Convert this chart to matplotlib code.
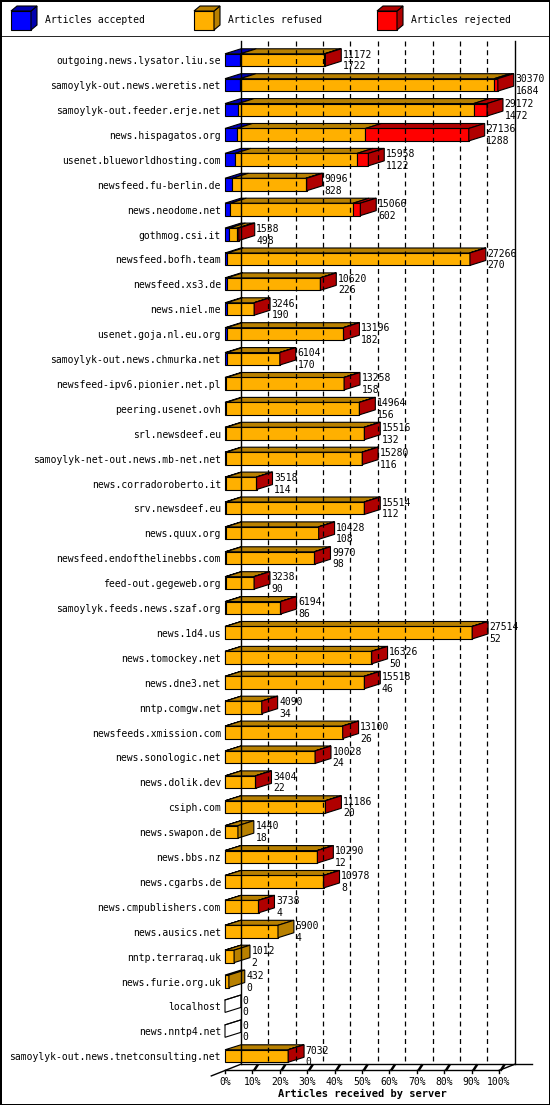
import matplotlib.pyplot as plt
from matplotlib.patches import Polygon, Rectangle

servers = ["outgoing.news.lysator.liu.se", "samoylyk-out.news.weretis.net", "samoylyk-out.feeder.erje.net",
           "news.hispagatos.org", "usenet.blueworldhosting.com", "newsfeed.fu-berlin.de", "news.neodome.net",
           "gothmog.csi.it", "newsfeed.bofh.team", "newsfeed.xs3.de", "news.niel.me", "usenet.goja.nl.eu.org",
           "samoylyk-out.news.chmurka.net", "newsfeed-ipv6.pionier.net.pl", "peering.usenet.ovh", "srl.newsdeef.eu",
           "samoylyk-net-out.news.mb-net.net", "news.corradoroberto.it", "srv.newsdeef.eu", "news.quux.org",
           "newsfeed.endofthelinebbs.com", "feed-out.gegeweb.org", "samoylyk.feeds.news.szaf.org", "news.1d4.us",
           "news.tomockey.net", "news.dne3.net", "nntp.comgw.net", "newsfeeds.xmission.com", "news.sonologic.net",
           "news.dolik.dev", "csiph.com", "news.swapon.de", "news.bbs.nz", "news.cgarbs.de",
           "news.cmpublishers.com", "news.ausics.net", "nntp.terraraq.uk", "news.furie.org.uk", "localhost",
           "news.nntp4.net", "samoylyk-out.news.tnetconsulting.net"]
offered = [11172, 30370, 29172, 27136, 15958, 9096, 15066, 1538, 27266, 10620, 3246, 13196, 6104, 13258, 14964,
           15516, 15280, 3518, 15514, 10428, 9970, 3238, 6194, 27514, 16326, 15518, 4090, 13100, 10028, 3404,
           11186, 1440, 10290, 10978, 3738, 5900, 1012, 432, 0, 0, 7032]
accepted = [1722, 1684, 1472, 1288, 1122, 828, 602, 498, 270, 226, 190, 182, 170, 158, 156, 132, 116, 114, 112,
            108, 98, 90, 86, 52, 50, 46, 34, 26, 24, 22, 20, 18, 12, 8, 4, 4, 2, 0, 0, 0, 0]
rejected = [100, 400, 1500, 11500, 1250, 100, 800, 150, 30, 30, 20, 20, 30, 20, 20, 20, 20, 20, 20, 20, 20, 20,
            20, 20, 20, 20, 20, 20, 20, 20, 20, 0, 20, 20, 20, 0, 0, 0, 0, 0, 20]
ticks = [0, 10, 20, 30, 40, 50, 60, 70, 80, 90, 100]
full_scale = 30500

fronts = ["#0000ff", "#ffb000", "#ff0000"]
darks = ["#0000b0", "#b88000", "#b00000"]
legend_names = ["Articles accepted", "Articles refused", "Articles rejected"]

mono = "DejaVu Sans Mono"
fs = 7.0
dx, dy, h = 5.8, 0.2, 0.5
n = len(servers)

fig = plt.figure(figsize=(5.5, 11.05), dpi=100)
fig.patch.set_edgecolor("black")
fig.patch.set_linewidth(2)

# legend strip (pixel coordinates)
lax = fig.add_axes([0, 1 - 37 / 1105, 1, 37 / 1105])
lax.set_xlim(0, 550)
lax.set_ylim(37, 0)
lax.axis("off")
for i, (name, fc, dc) in enumerate(zip(legend_names, fronts, darks)):
    x0 = 11 + i * 183
    lax.add_patch(Rectangle((x0, 11), 20, 19, fc=fc, ec="black", lw=0.8))
    lax.add_patch(Polygon([(x0 + 20, 11), (x0 + 20, 30), (x0 + 26, 25), (x0 + 26, 6)], fc=dc, ec="black", lw=0.8))
    lax.add_patch(Polygon([(x0, 11), (x0 + 20, 11), (x0 + 26, 6), (x0 + 6, 6)], fc=dc, ec="black", lw=0.8))
    lax.text(x0 + 34, 20, name, family=mono, fontsize=fs, va="center")
lax.plot([0, 550], [36.5, 36.5], color="black", lw=1.2)

# main chart, x in percent, y in rows
ax = fig.add_axes([0, 0, 1, 1 - 37 / 1105])
ax.set_xlim(-225 / 2.74, 325 / 2.74)
ax.set_ylim((1105 - 60) / 24.9, (37 - 60) / 24.9)
ax.axis("off")

floor_front = n - 1 + 0.58
floor_back = floor_front - 0.25
top = -0.75
for t in ticks[1:-1]:
    ax.plot([t + dx, t + dx], [top, floor_back], color="black", lw=0.9, ls=(0, (4, 3)))
for xb in (dx, 100 + dx):
    ax.plot([xb, xb], [top, floor_back], color="black", lw=1)
# floor
ax.plot([0, 100], [floor_front, floor_front], color="black", lw=1)
ax.plot([dx, 112], [floor_back, floor_back], color="black", lw=1)
ax.plot([-5, dx], [floor_front + 0.22, floor_back], color="black", lw=1)
ax.plot([100, 100 + dx], [floor_front, floor_back], color="black", lw=1)
for t in ticks:
    ax.plot([t, t], [floor_front, floor_front + 0.12], color="black", lw=1)
    if 0 < t:
        ax.plot([t + 0.8, t + 1.8], [floor_front - 0.03, floor_front - 0.2], color="black", lw=1.8)
    ax.text(t, floor_front + 0.45, f"{t}%", family=mono, fontsize=fs, ha="center", va="center")
ax.text(50, floor_front + 0.95, "Articles received by server", family=mono, fontsize=fs + 0.5,
        fontweight="bold", ha="center", va="center")

for i in range(n):
    y = i
    segs = [accepted[i], offered[i] - accepted[i] - rejected[i], rejected[i]]
    x = 0.0
    last = None
    for k, v in enumerate(segs):
        w = v / full_scale * 100
        if w <= 0:
            continue
        ax.add_patch(Rectangle((x, y - h / 2), w, h, fc=fronts[k], ec="black", lw=0.8))
        ax.add_patch(Polygon([(x, y - h / 2), (x + w, y - h / 2), (x + w + dx, y - h / 2 - dy),
                              (x + dx, y - h / 2 - dy)], fc=darks[k], ec="black", lw=0.8))
        x += w
        last = k
    fc = darks[last] if last is not None else "white"
    ax.add_patch(Polygon([(x, y - h / 2), (x, y + h / 2), (x + dx, y + h / 2 - dy), (x + dx, y - h / 2 - dy)],
                         fc=fc, ec="black", lw=0.8))
    if last is None:
        ax.plot([0, dx], [y - h / 2, y - h / 2 - dy], color="black", lw=0.8)
    ax.text(-1.5, y + 0.05, servers[i], family=mono, fontsize=fs, ha="right", va="center")
    ax.text(x + dx + 0.6, y - 0.22, str(offered[i]), family=mono, fontsize=fs, va="center")
    ax.text(x + dx + 0.6, y + 0.25, str(accepted[i]), family=mono, fontsize=fs, va="center")

fig.savefig("out.png", dpi=100, edgecolor=fig.get_edgecolor())
